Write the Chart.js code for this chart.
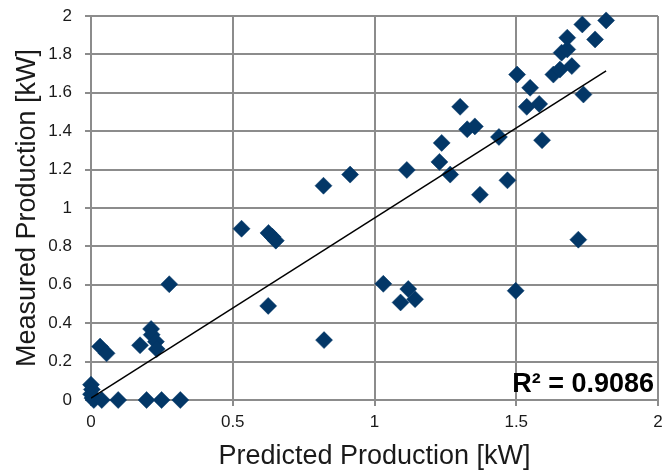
<!DOCTYPE html>
<html>
<head>
<meta charset="utf-8">
<script src="https://cdn.jsdelivr.net/npm/chart.js@4/dist/chart.umd.min.js"></script>
<style>
  html, body { margin: 0; padding: 0; background: #ffffff; }
  #c { display: block; }
</style>
</head>
<body>
<canvas id="c" width="664" height="473"></canvas>
<script>
// Predicted vs. measured PV production, kW
const predicted = [
  0, 0.003, 0, 0.005, 0.01, 0.038, 0.096, 0.196, 0.249, 0.315,
  0.032, 0.055, 0.212, 0.214, 0.173, 0.229, 0.232, 0.276,
  0.531, 0.626, 0.64, 0.652, 0.625, 0.822, 0.82, 0.914,
  1.031, 1.092, 1.119, 1.143, 1.114,
  1.229, 1.237, 1.267, 1.302, 1.327, 1.354, 1.372, 1.439, 1.469,
  1.498, 1.503, 1.537, 1.549, 1.581, 1.591, 1.631, 1.654, 1.66,
  1.68, 1.68, 1.696, 1.719, 1.737, 1.733, 1.778, 1.817
];
const measured = [
  0.08, 0.055, 0.03, 0.01, 0, 0, 0, 0, 0, 0,
  0.278, 0.243, 0.37, 0.34, 0.285, 0.304, 0.265, 0.603,
  0.892, 0.87, 0.85, 0.83, 0.49, 0.312, 1.116, 1.174,
  0.605, 0.508, 0.578, 0.525, 1.198,
  1.24, 1.339, 1.174, 1.527, 1.41, 1.425, 1.069, 1.37, 1.144,
  0.569, 1.695, 1.527, 1.626, 1.542, 1.353, 1.695, 1.721, 1.809,
  1.826, 1.887, 1.739, 0.835, 1.591, 1.956, 1.878, 1.977
];
const xTicks = [0, 0.5, 1, 1.5, 2];
const xTickLabels = ['0', '0.5', '1', '1.5', '2'];
const yTicks = [0, 0.2, 0.4, 0.6, 0.8, 1, 1.2, 1.4, 1.6, 1.8, 2];
const yTickLabels = ['0', '0.2', '0.4', '0.6', '0.8', '1', '1.2', '1.4', '1.6', '1.8', '2'];
const xTitle = 'Predicted Production [kW]';
const yTitle = 'Measured Production [kW]';
const r2Label = 'R\u00B2 = 0.9086';

// Linear trendline y = trendSlope * x + trendIntercept, spanning the predicted range
const trendSlope = 0.938;
const trendIntercept = 0.01;

const points = predicted.map((p, i) => ({ x: p, y: measured[i] }));
const xMin = Math.min(...predicted), xMax = Math.max(...predicted);
const trend = [
  { x: xMin, y: trendIntercept + trendSlope * xMin },
  { x: xMax, y: trendIntercept + trendSlope * xMax }
];

const FONT = "'Liberation Sans', Arial, sans-serif";
const GRID = '#8c8c8c';

// R² annotation in the lower-right corner of the plot
const r2Plugin = {
  id: 'r2Label',
  afterDatasetsDraw(chart) {
    const { ctx, chartArea } = chart;
    ctx.save();
    ctx.font = 'bold 27px ' + FONT;
    ctx.fillStyle = '#000000';
    ctx.textAlign = 'right';
    ctx.textBaseline = 'alphabetic';
    ctx.fillText(r2Label, chartArea.right - 4, chartArea.bottom - 8);
    ctx.restore();
  }
};

new Chart(document.getElementById('c'), {
  data: {
    datasets: [
      {
        type: 'scatter',
        data: points,
        clip: false,
        pointStyle: 'rectRot',
        pointRadius: 8.5,
        pointHoverRadius: 8.5,
        backgroundColor: '#033767',
        borderColor: '#033767',
        borderWidth: 0.5,
        order: 2
      },
      {
        type: 'line',
        data: trend,
        borderColor: '#000000',
        borderWidth: 1.5,
        pointRadius: 0,
        fill: false,
        order: 1
      }
    ]
  },
  options: {
    responsive: false,
    animation: false,
    events: [],
    layout: { autoPadding: false, padding: { left: 0, right: 6, top: 16, bottom: 0 } },
    plugins: { legend: { display: false }, tooltip: { enabled: false } },
    scales: {
      x: {
        type: 'linear',
        min: 0, max: 2,
        afterBuildTicks: s => { s.ticks = xTicks.map(v => ({ value: v })); },
        afterFit: s => { s.height = 73; s.paddingLeft = 0; s.paddingRight = 0; },
        grid: { color: GRID, lineWidth: 2, tickLength: 6 },
        border: { color: GRID, width: 2 },
        ticks: {
          color: '#1a1a1a', font: { family: FONT, size: 17 }, padding: 6, maxRotation: 0,
          callback: v => xTickLabels[xTicks.indexOf(v)]
        },
        title: { display: true, text: xTitle, color: '#1a1a1a', font: { family: FONT, size: 27 }, padding: { top: 0, bottom: 0 } }
      },
      y: {
        type: 'linear',
        min: 0, max: 2,
        afterBuildTicks: s => { s.ticks = yTicks.map(v => ({ value: v })); },
        afterFit: s => { s.width = 91; s.paddingTop = 0; s.paddingBottom = 0; },
        grid: { color: GRID, lineWidth: 2, tickLength: 6 },
        border: { color: GRID, width: 2 },
        ticks: {
          color: '#1a1a1a', font: { family: FONT, size: 17 }, padding: 13,
          callback: v => yTickLabels[yTicks.indexOf(v)]
        },
        title: { display: true, text: yTitle, color: '#1a1a1a', font: { family: FONT, size: 27 }, padding: { top: 11, bottom: 0 } }
      }
    }
  },
  plugins: [r2Plugin]
});
</script>
</body>
</html>
